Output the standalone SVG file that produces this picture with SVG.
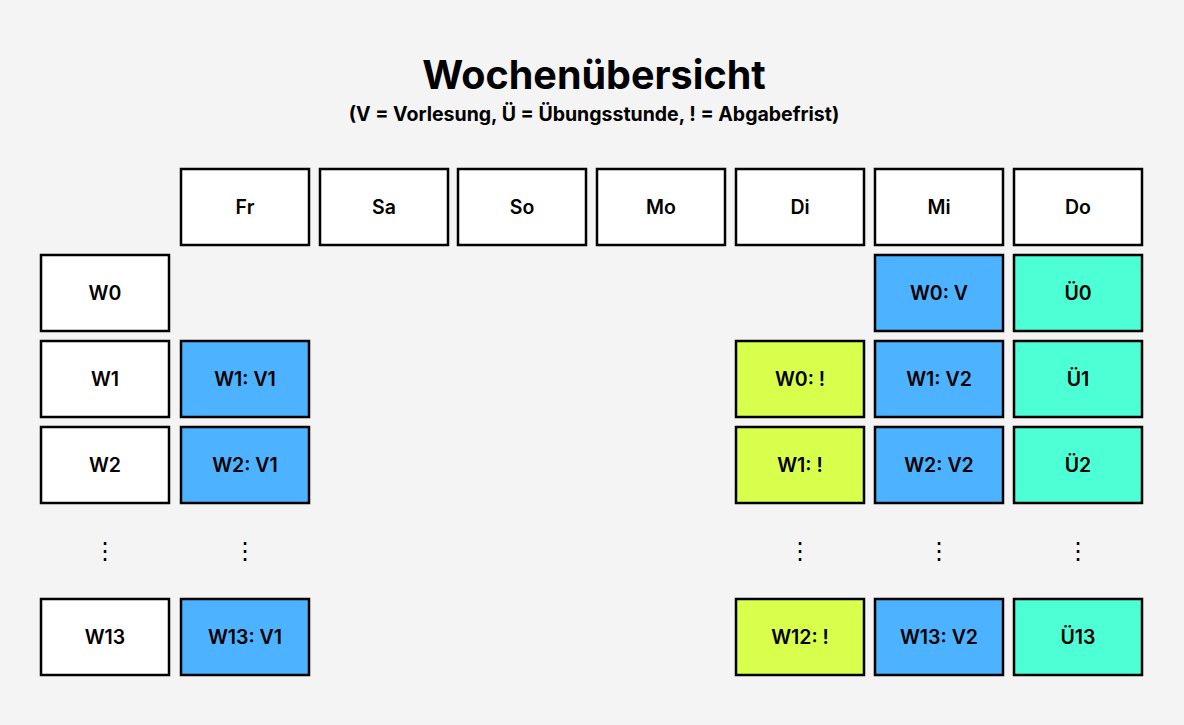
<svg xmlns="http://www.w3.org/2000/svg" width="1184" height="725" viewBox="0 0 1184 725">
<style>
.c{stroke:#000;stroke-width:2.5}
.w{fill:#fff}.b{fill:#4db2ff}.y{fill:#d9ff4d}.t{fill:#4dffd5}
text{font-family:Inter,"Noto Sans","Liberation Sans",sans-serif;fill:#000;text-anchor:middle}
.l{font-size:19.5px;font-weight:600;dominant-baseline:central}
.d{font-size:24px;dominant-baseline:central;font-family:"DejaVu Sans",sans-serif}
</style>
<rect width="1184" height="725" fill="#f4f4f4"/>
<text x="594" y="89" font-size="39.5" font-weight="700">Wochenübersicht</text>
<text x="594" y="121" font-size="19.5" font-weight="700">(V = Vorlesung, Ü = Übungsstunde, ! = Abgabefrist)</text>
<g id="h-fr"><rect class="c w" x="181" y="169" width="128" height="76"/><text class="l" x="245" y="207">Fr</text></g>
<g id="h-sa"><rect class="c w" x="320" y="169" width="128" height="76"/><text class="l" x="384" y="207">Sa</text></g>
<g id="h-so"><rect class="c w" x="458" y="169" width="128" height="76"/><text class="l" x="522" y="207">So</text></g>
<g id="h-mo"><rect class="c w" x="597" y="169" width="128" height="76"/><text class="l" x="661" y="207">Mo</text></g>
<g id="h-di"><rect class="c w" x="736" y="169" width="128" height="76"/><text class="l" x="800" y="207">Di</text></g>
<g id="h-mi"><rect class="c w" x="875" y="169" width="128" height="76"/><text class="l" x="939" y="207">Mi</text></g>
<g id="h-do"><rect class="c w" x="1014" y="169" width="128" height="76"/><text class="l" x="1078" y="207">Do</text></g>

<g id="w0"><rect class="c w" x="41" y="255" width="128" height="76"/><text class="l" x="105" y="293">W0</text></g>
<g id="w1"><rect class="c w" x="41" y="341" width="128" height="76"/><text class="l" x="105" y="379">W1</text></g>
<g id="w2"><rect class="c w" x="41" y="427" width="128" height="76"/><text class="l" x="105" y="465">W2</text></g>
<g id="w13"><rect class="c w" x="41" y="599" width="128" height="76"/><text class="l" x="105" y="637">W13</text></g>

<g id="w0-mi"><rect class="c b" x="875" y="255" width="128" height="76"/><text class="l" x="939" y="293">W0: V</text></g>
<g id="w0-do"><rect class="c t" x="1014" y="255" width="128" height="76"/><text class="l" x="1078" y="293">Ü0</text></g>

<g id="w1-fr"><rect class="c b" x="181" y="341" width="128" height="76"/><text class="l" x="245" y="379">W1: V1</text></g>
<g id="w1-di"><rect class="c y" x="736" y="341" width="128" height="76"/><text class="l" x="800" y="379">W0: !</text></g>
<g id="w1-mi"><rect class="c b" x="875" y="341" width="128" height="76"/><text class="l" x="939" y="379">W1: V2</text></g>
<g id="w1-do"><rect class="c t" x="1014" y="341" width="128" height="76"/><text class="l" x="1078" y="379">Ü1</text></g>

<g id="w2-fr"><rect class="c b" x="181" y="427" width="128" height="76"/><text class="l" x="245" y="465">W2: V1</text></g>
<g id="w2-di"><rect class="c y" x="736" y="427" width="128" height="76"/><text class="l" x="800" y="465">W1: !</text></g>
<g id="w2-mi"><rect class="c b" x="875" y="427" width="128" height="76"/><text class="l" x="939" y="465">W2: V2</text></g>
<g id="w2-do"><rect class="c t" x="1014" y="427" width="128" height="76"/><text class="l" x="1078" y="465">Ü2</text></g>

<g id="w13-fr"><rect class="c b" x="181" y="599" width="128" height="76"/><text class="l" x="245" y="637">W13: V1</text></g>
<g id="w13-di"><rect class="c y" x="736" y="599" width="128" height="76"/><text class="l" x="800" y="637">W12: !</text></g>
<g id="w13-mi"><rect class="c b" x="875" y="599" width="128" height="76"/><text class="l" x="939" y="637">W13: V2</text></g>
<g id="w13-do"><rect class="c t" x="1014" y="599" width="128" height="76"/><text class="l" x="1078" y="637">Ü13</text></g>

<g id="dots">
<text class="d" x="105" y="551">⋮</text>
<text class="d" x="245" y="551">⋮</text>
<text class="d" x="800" y="551">⋮</text>
<text class="d" x="939" y="551">⋮</text>
<text class="d" x="1078" y="551">⋮</text>
</g>
<g id="connectors"></g>
</svg>
